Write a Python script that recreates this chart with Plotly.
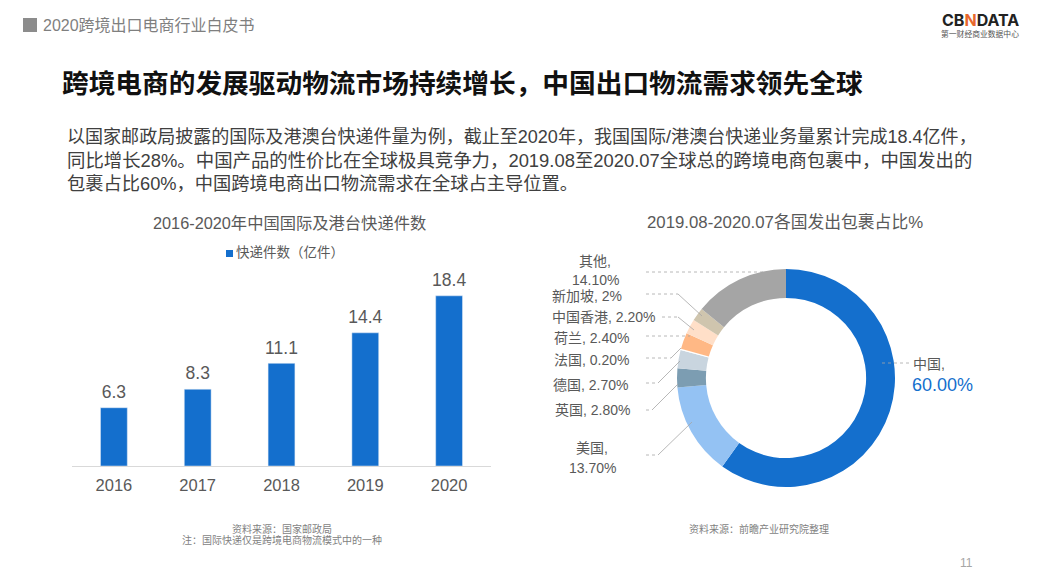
import plotly.graph_objects as go

W, H = 1046, 580
FONT = "Liberation Sans, Noto Sans CJK SC"

years = ["2016", "2017", "2018", "2019", "2020"]
parcels = [6.3, 8.3, 11.1, 14.4, 18.4]
bar_series_name = "快递件数（亿件）"

regions = ["中国", "美国", "英国", "德国", "法国", "荷兰", "中国香港", "新加坡", "其他"]
shares = [60.0, 13.7, 2.8, 2.7, 0.2, 2.4, 2.2, 2.0, 14.1]
slice_colors = ["#146FCD", "#94C2F3", "#7C9DB2", "#C9D5DF", "#FFFFFF",
                "#FFB885", "#FFDFC8", "#CFC5AE", "#A5A5A5"]

body_lines = [
    "以国家邮政局披露的国际及港澳台快递件量为例，截止至2020年，我国国际/港澳台快递业务量累计完成18.4亿件，",
    "同比增长28%。中国产品的性价比在全球极具竞争力，2019.08至2020.07全球总的跨境电商包裹中，中国发出的",
    "包裹占比60%，中国跨境电商出口物流需求在全球占主导位置。",
]

def px(x): return x / W
def py(y): return 1 - y / H

fig = go.Figure()
fig.add_trace(go.Bar(
    x=years, y=parcels, name=bar_series_name, marker_color="#146FCD", width=0.32,
    showlegend=False, xaxis="x", yaxis="y",
))
# value labels, held a little above each bar by an invisible marker
fig.add_trace(go.Scatter(
    x=years, y=parcels, mode="markers+text", text=[f"{v}" for v in parcels],
    textposition="top center", cliponaxis=False, hoverinfo="skip", showlegend=False,
    marker=dict(size=7, opacity=0),
    textfont=dict(size=17.5, color="#595959", family=FONT),
    xaxis="x", yaxis="y",
))
fig.add_trace(go.Pie(
    labels=regions, values=shares, hole=0.735, sort=False, direction="clockwise",
    rotation=0, textinfo="none", showlegend=False, hoverinfo="label+percent",
    marker=dict(colors=slice_colors, line=dict(color="#FFFFFF", width=0)),
    domain=dict(x=[px(786 - 109), px(786 + 109)], y=[py(378 + 109), py(378 - 109)]),
))

def text(x, y, s, size=13, color="#595959", anchor="center", weight=None):
    fig.add_annotation(
        xref="paper", yref="paper", x=px(x), y=py(y), text=s, showarrow=False,
        xanchor=anchor, yanchor="middle", align="center",
        font=dict(size=size, color=color, family=FONT, weight=weight or 400),
    )

text(41, 25, "2020跨境出口电商行业白皮书", 16, "#7F7F7F", "left")
text(60, 84, "跨境电商的发展驱动物流市场持续增长，中国出口物流需求领先全球", 26.7, "#111111", "left", 700)
for y, line, size in zip((137, 160, 184), body_lines, (18.05, 18.4, 18.25)):
    text(65, y, line, size, "#404040", "left")
text(289, 223, "2016-2020年中国国际及港台快递件数", 16.3, "#595959")
text(785, 223, "2019.08-2020.07各国发出包裹占比%", 16.8, "#595959")

text(282, 529, "资料来源：国家邮政局", 10, "#7F7F7F")
text(282, 540, "注：国际快递仅是跨境电商物流模式中的一种", 10, "#7F7F7F")
text(759, 529, "资料来源：前瞻产业研究院整理", 10, "#7F7F7F")
text(966, 563, "11", 12, "#A6A6A6")

# series key above the bars
text(234, 253, bar_series_name, 13.5, "#595959", "left")

# logo as text
fig.add_annotation(
    xref="paper", yref="paper", x=px(980), y=py(20), showarrow=False,
    xanchor="center", yanchor="middle",
    text="<b>CB<span style='color:#E8672C'>N</span>DATA</b>",
    font=dict(size=16, color="#222222", family="Inter"),
)
text(980, 34, "第一财经商业数据中心", 7.8, "#555555")

# pie labels
LS = 14
text(595, 261, "其他,", LS)
text(595, 280, "14.10%", LS)
text(587, 296, "新加坡, 2%", LS)
text(603, 317, "中国香港, 2.20%", LS)
text(591, 338, "荷兰, 2.40%", LS)
text(591, 360, "法国, 0.20%", LS)
text(590, 385, "德国, 2.70%", LS)
text(592, 410, "英国, 2.80%", LS)
text(592, 448, "美国,", LS)
text(592, 468, "13.70%", LS)
text(911, 364, "中国,", LS, "#595959", "left")
text(910, 385, "60.00%", 18, "#146FCD", "left")

# leader lines
leaders = [
    [(646, 272), (772, 272)],
    [(646, 294), (678, 294), (702, 316)],
    [(662, 317), (678, 317), (694, 330)],
    [(646, 336), (690, 336)],
    [(646, 358), (671, 358), (681, 348)],
    [(646, 383), (658, 383), (680, 361)],
    [(646, 410), (652, 410), (678, 384)],
    [(646, 455), (658, 455), (692, 422)],
    [(882, 363), (911, 363)],
]
shapes = []
for pts in leaders:
    for i, ((x0, y0), (x1, y1)) in enumerate(zip(pts, pts[1:])):
        shapes.append(dict(
            type="line", xref="paper", yref="paper",
            x0=px(x0), y0=py(y0), x1=px(x1), y1=py(y1),
            line=dict(color="#A6A6A6", width=0.8, dash="dot" if y0 == y1 else "solid"),
        ))
# header square
shapes.append(dict(type="rect", xref="paper", yref="paper", x0=px(23), x1=px(37),
                   y0=py(32), y1=py(18), fillcolor="#8C8C8C", line_width=0))
# series key swatch
shapes.append(dict(type="rect", xref="paper", yref="paper", x0=px(226), x1=px(233),
                   y0=py(257), y1=py(250), fillcolor="#146FCD", line_width=0))

fig.update_layout(
    width=W, height=H, margin=dict(l=0, r=0, t=0, b=0),
    paper_bgcolor="#FFFFFF", plot_bgcolor="#FFFFFF", shapes=shapes,
    font=dict(family=FONT, color="#595959"),
    xaxis=dict(domain=[px(72), px(491)], anchor="y", type="category",
               categoryorder="array", categoryarray=years, showgrid=False,
               showline=True, linecolor="#D9D9D9", linewidth=1, ticks="",
               ticklabelstandoff=4,
               tickfont=dict(size=16.5, color="#595959")),
    yaxis=dict(domain=[py(466), py(281)], range=[0, 20], visible=False),
    showlegend=False,
)
fig.write_html("out.html", config=dict(displayModeBar=False),
               post_script="document.body.style.margin='0';")
